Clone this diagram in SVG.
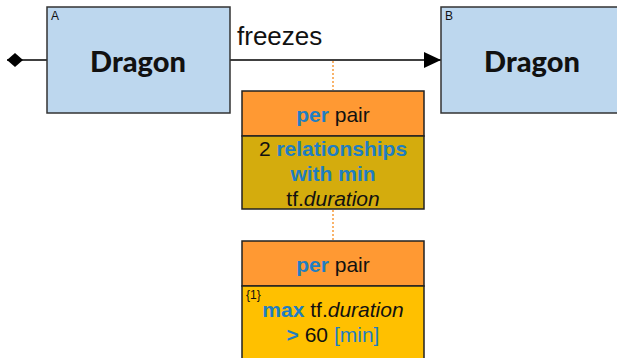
<svg xmlns="http://www.w3.org/2000/svg" width="617" height="358" viewBox="0 0 617 358">
<defs>
<style>
.ent{fill:#BDD7EE;stroke:#333;stroke-width:1.5}
.dragon{font-family:Lato,"Liberation Sans",sans-serif;font-weight:900;font-size:29px;fill:#111;text-anchor:middle}
.lbl{font-family:"Liberation Sans",Arial,sans-serif;font-size:12px;fill:#111}
.t{font-family:"Liberation Sans",Arial,sans-serif;font-size:21px;fill:#111;text-anchor:middle}
.b{fill:#1F7EC1;font-weight:bold}
.bl{fill:#1F7EC1}
.box{stroke:#222;stroke-width:1.5}
</style>
<marker id="arr" markerWidth="18" markerHeight="16" refX="17" refY="8" orient="auto" markerUnits="userSpaceOnUse">
<path d="M0,0 L17,8 L0,16 Z" fill="#000"/>
</marker>
<marker id="dia" markerWidth="16" markerHeight="14" refX="0" refY="7" orient="auto" markerUnits="userSpaceOnUse">
<path d="M0,7 L8,0 L16,7 L8,14 Z" fill="#000"/>
</marker>
</defs>
<g id="connectors">
<line x1="7" y1="60" x2="47" y2="60" stroke="#000" stroke-width="1.5" marker-start="url(#dia)"/>
<line x1="230" y1="60" x2="441" y2="60" stroke="#000" stroke-width="1.5" marker-end="url(#arr)"/>
<text x="237" y="45" font-family="Liberation Sans,Arial,sans-serif" font-size="26" fill="#111">freezes</text>
<line x1="333" y1="61" x2="333" y2="90" stroke="#F79A3A" stroke-width="1.5" stroke-dasharray="2,2"/>
<line x1="333" y1="210" x2="333" y2="241" stroke="#F79A3A" stroke-width="1.5" stroke-dasharray="2,2"/>
</g>
<g id="nodeA">
<rect class="ent" x="47" y="7" width="183" height="106"/>
<text class="lbl" x="51" y="20">A</text>
<text class="dragon" x="138" y="72">Dragon</text>
</g>
<g id="nodeB">
<rect class="ent" x="441" y="7" width="190" height="106"/>
<text class="lbl" x="445" y="20">B</text>
<text class="dragon" x="532" y="72">Dragon</text>
</g>
<g id="agg1">
<rect class="box" x="242" y="91" width="182" height="45" fill="#FF9933"/>
<rect class="box" x="242" y="136" width="182" height="73" fill="#D4AC0D"/>
<text class="t" x="333" y="122"><tspan class="b">per</tspan> pair</text>
<text class="t" x="333" y="156">2 <tspan class="b">relationships</tspan></text>
<text class="t" x="333" y="181"><tspan class="b">with min</tspan></text>
<text class="t" x="333" y="206">tf.<tspan font-style="italic">duration</tspan></text>
</g>
<g id="agg2">
<rect class="box" x="242" y="241" width="182" height="45" fill="#FF9933"/>
<rect class="box" x="242" y="286" width="182" height="80" fill="#FFC000"/>
<text class="t" x="333" y="272"><tspan class="b">per</tspan> pair</text>
<text class="lbl" x="246" y="299" font-size="13">{1}</text>
<text class="t" x="333" y="317"><tspan class="b">max</tspan> tf.<tspan font-style="italic">duration</tspan></text>
<text class="t" x="333" y="342"><tspan class="b">&gt;</tspan> 60 <tspan class="bl">[min]</tspan></text>
</g>
</svg>
